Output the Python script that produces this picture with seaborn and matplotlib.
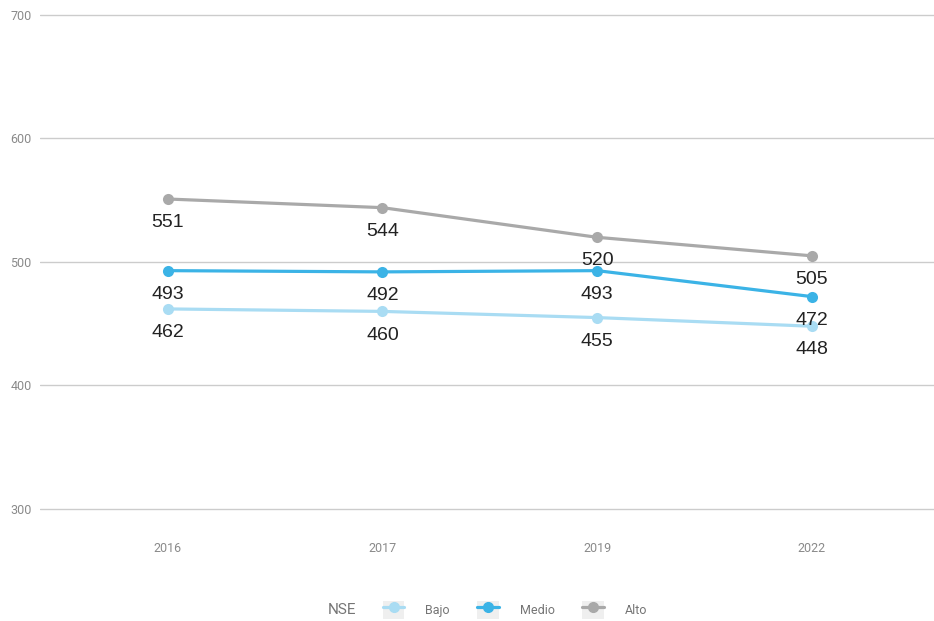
import numpy as np
import pandas as pd
import matplotlib
matplotlib.use("Agg")
import matplotlib.pyplot as plt
import seaborn as sns
from matplotlib.lines import Line2D
from matplotlib.patches import Patch
from matplotlib.legend_handler import HandlerTuple

years = ["2016", "2017", "2019", "2022"]
bajo = [462, 460, 455, 448]
medio = [493, 492, 493, 472]
alto = [551, 544, 520, 505]
groups = ["Bajo", "Medio", "Alto"]
colors = {"Bajo": "#a9dcf3", "Medio": "#3bb3e6", "Alto": "#a9a9a9"}

df = pd.DataFrame({
    "year": years * 3,
    "score": bajo + medio + alto,
    "NSE": ["Bajo"] * 4 + ["Medio"] * 4 + ["Alto"] * 4,
})

sns.set_style("white")
plt.rcParams["font.family"] = ["Roboto", "DejaVu Sans"]

fig = plt.figure(figsize=(9.34, 6.21), dpi=100)
# a little headroom below 300 / above 700 so the edge gridlines show
px_per_unit = (509 - 15) / 400
top = 15 - 2 * px_per_unit
bot = 509 + 2 * px_per_unit
ax = fig.add_axes([40 / 934, (621 - bot) / 621, 1 - 40 / 934, (bot - top) / 621])

sns.lineplot(data=df, x="year", y="score", hue="NSE", hue_order=groups,
             palette=colors, marker="o", markersize=8, markeredgewidth=0,
             linewidth=2.3, legend=False, ax=ax, sort=False)

# value labels under each point
for g in groups:
    sub = df[df["NSE"] == g]
    for i, (x, y) in enumerate(zip(sub["year"], sub["score"])):
        ax.annotate(str(y), (i, y), xytext=(0, -17), textcoords="offset points",
                    ha="center", va="center", fontsize=14, color="#222222",
                    family=["Liberation Sans", "DejaVu Sans"])

ax.set_ylim(298, 702)
ax.set_yticks([300, 400, 500, 600, 700])
ax.set_xlim(-0.596, 3.57)
ax.grid(axis="y", color="#cccccc", linewidth=1)
ax.grid(axis="x", visible=False)
ax.set_axisbelow(True)
for s in ax.spines.values():
    s.set_visible(False)
ax.tick_params(axis="both", length=0, labelsize=9, labelcolor="#8a8a8a")
ax.tick_params(axis="x", pad=22)
ax.tick_params(axis="y", pad=6)
ax.set_xlabel("")
ax.set_ylabel("")

# legend at the bottom
handles = []
for g in groups:
    bg = Patch(facecolor="#efefef", edgecolor="none")
    ln = Line2D([0], [0], color=colors[g], marker="o", markersize=7, linewidth=2.3)
    handles.append((bg, ln))
fig.text(342 / 934, 1 - 610 / 621, "NSE", fontsize=11, color="#757575",
         ha="center", va="center")
fig.legend(handles, groups,
           handler_map={tuple: HandlerTuple(ndivide=1, pad=0)},
           loc="center", bbox_to_anchor=(515 / 934, 1 - 610 / 621), ncol=3,
           frameon=False, fontsize=9, labelcolor="#757575", handlelength=1.7,
           handleheight=1.9, handletextpad=1.7, columnspacing=2.2)

fig.savefig("out.png", dpi=100, facecolor="white")
